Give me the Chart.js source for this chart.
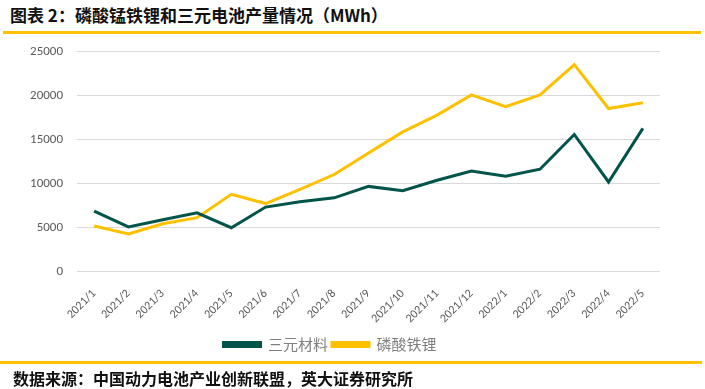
<!DOCTYPE html>
<html>
<head>
<meta charset="utf-8">
<script src="https://cdn.jsdelivr.net/npm/chart.js@4/dist/chart.umd.min.js"></script>
<style>
  body { margin: 0; width: 705px; height: 389px; background: #fff; position: relative; overflow: hidden;
         font-family: "Noto Sans CJK SC", sans-serif; }
  #title { position: absolute; left: 10px; top: 2px; font-size: 17px; font-weight: bold; color: #111; }
  #topLine { position: absolute; left: 3px; right: 4px; top: 31px; height: 3px; background: #FFC000; }
  #bottomLine { position: absolute; left: 0; right: 3px; top: 361px; height: 3px; background: #FFC000; }
  #source { position: absolute; left: 13px; top: 367px; font-size: 16px; font-weight: bold; color: #111; line-height: 22px; }
  #box { position: absolute; left: 0; top: 30px; width: 705px; height: 332px; }
</style>
</head>
<body>
<div id="title">图表 2：磷酸锰铁锂和三元电池产量情况（MWh）</div>
<div id="box"><canvas id="chart"></canvas></div>
<div id="topLine"></div>
<div id="bottomLine"></div>
<div id="source">数据来源：中国动力电池产业创新联盟，英大证券研究所</div>
<script>
// --- 数据 ---
const months = ['2021/1', '2021/2', '2021/3', '2021/4', '2021/5', '2021/6', '2021/7', '2021/8', '2021/9',
  '2021/10', '2021/11', '2021/12', '2022/1', '2022/2', '2022/3', '2022/4', '2022/5'];
const ternary = [6900, 5100, 5900, 6700, 5000, 7350, 7950, 8400, 9700, 9200, 10400, 11450, 10850, 11650, 15600, 10200, 16300];
const lfp = [5200, 4300, 5450, 6150, 8800, 7750, 9350, 11050, 13500, 15900, 17800, 20100, 18750, 20100, 23550, 18550, 19200];
const yTicks = [0, 5000, 10000, 15000, 20000, 25000];

const ctx = document.getElementById('chart').getContext('2d');
const chart = new Chart(ctx, {
  type: 'line',
  data: {
    labels: months,
    datasets: [{
      label: '三元材料',
      data: ternary,
      borderColor: '#00544A',
      backgroundColor: '#00544A',
      borderWidth: 3,
      tension: 0,
      pointRadius: 0
    }, {
      label: '磷酸铁锂',
      data: lfp,
      borderColor: '#FFC000',
      backgroundColor: '#FFC000',
      borderWidth: 3,
      tension: 0,
      pointRadius: 0
    }]
  },
  options: {
    responsive: true,
    maintainAspectRatio: false,
    animation: false,
    layout: { padding: { left: 0, right: 45, top: 3, bottom: 0 } },
    plugins: {
      legend: {
        position: 'bottom',
        labels: {
          boxWidth: 37, boxHeight: 4, padding: 4,
          color: '#7f7f7f',
          font: { family: 'Noto Sans CJK SC', size: 15 }
        }
      },
      tooltip: { enabled: false }
    },
    scales: {
      x: {
        offset: true,
        grid: { display: false },
        border: { display: false },
        ticks: {
          padding: 7,
          maxRotation: 45, minRotation: 45, autoSkip: false,
          color: '#595959',
          font: { family: 'Carlito, "Liberation Sans", sans-serif', size: 12 }
        }
      },
      y: {
        min: 0, max: 25000,
        afterFit: s => { s.width = 77; },
        afterBuildTicks: s => { s.ticks = yTicks.map(v => ({ value: v })); },
        grid: { color: '#d9d9d9', lineWidth: 1, drawTicks: false },
        border: { display: false },
        ticks: {
          padding: 14,
          color: '#595959',
          callback: v => String(v),
          font: { family: 'Carlito, "Liberation Sans", sans-serif', size: 13 }
        }
      }
    }
  }
});
</script>
</body>
</html>
